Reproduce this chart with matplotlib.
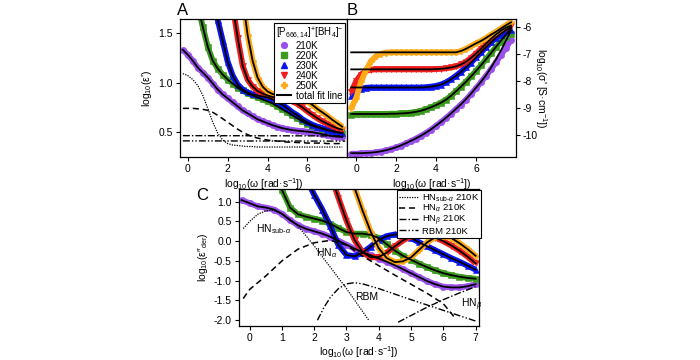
import numpy as np
import matplotlib
matplotlib.use("Agg")
import matplotlib.pyplot as plt
from matplotlib.lines import Line2D

plt.rcParams["font.family"] = ["Liberation Sans", "DejaVu Sans"]
plt.rcParams["axes.unicode_minus"] = False
plt.rcParams["mathtext.fontset"] = "custom"
plt.rcParams["mathtext.rm"] = "Liberation Sans"
plt.rcParams["mathtext.it"] = "Liberation Sans:italic"
plt.rcParams["mathtext.bf"] = "Liberation Sans:bold"

nan = float("nan")

TEMPS = ["210K", "220K", "230K", "240K", "250K"]
COLORS = ["#9a50ec", "#3c9a1e", "#0a14f0", "#f01e1e", "#ffaa18"]
MARKERS = ["o", "s", "^", "v", "P"]

# log10(omega) grids (measurement frequencies)
W_AB = np.arange(-0.25, 7.76, 0.25)
W_C = np.arange(-0.25, 7.01, 0.25)

# --- A: log10(eps') ---
A_210 = [1.33, 1.28, 1.22, 1.15, 1.10, 1.05, 0.99, 0.93, 0.88, 0.84, 0.80, 0.76, 0.72, 0.69, 0.66, 0.63, 0.61,
         0.59, 0.57, 0.555, 0.54, 0.53, 0.52, 0.515, 0.51, 0.505, 0.50, 0.49, 0.48, 0.47, 0.46, 0.455, 0.45]
A_220 = [nan, nan, nan, 1.78, 1.56, 1.36, 1.22, 1.14, 1.08, 1.03, 0.99, 0.95, 0.92, 0.89, 0.87, 0.85, 0.83,
         0.81, 0.79, 0.76, 0.73, 0.70, 0.67, 0.64, 0.61, 0.585, 0.565, 0.55, 0.535, 0.52, 0.51, 0.50, 0.49]
A_230 = [nan, nan, nan, nan, nan, nan, 1.88, 1.63, 1.42, 1.21, 1.07, 0.98, 0.93, 0.90, 0.88, 0.87, 0.86,
         0.85, 0.83, 0.80, 0.775, 0.74, 0.70, 0.67, 0.63, 0.60, 0.575, 0.555, 0.54, 0.525, 0.51, 0.50, 0.49]
A_240 = [nan, nan, nan, nan, nan, nan, nan, nan, nan, nan, 1.78, 1.45, 1.17, 1.03, 0.96, 0.915, 0.89,
         0.87, 0.855, 0.845, 0.84, 0.83, 0.81, 0.785, 0.75, 0.71, 0.675, 0.64, 0.61, 0.585, 0.56, 0.54, 0.525]
A_250 = [nan, nan, nan, nan, nan, nan, nan, nan, nan, nan, nan, nan, 1.85, 1.48, 1.22, 1.05, 0.96,
         0.91, 0.885, 0.87, 0.86, 0.855, 0.855, 0.85, 0.835, 0.81, 0.775, 0.735, 0.70, 0.665, 0.625, 0.59, 0.555]
A_SUB = [1.09, 1.07, 1.03, 0.97, 0.87, 0.74, 0.60, 0.49, 0.42, 0.385, 0.37, 0.365, 0.36, 0.355, 0.355, 0.35,
         0.35, 0.35, 0.35, 0.35, 0.35, 0.35, 0.35, 0.35, 0.35, 0.35, 0.35, 0.35, 0.35, 0.35, 0.35, 0.35, 0.35]
A_HNA = [0.74, 0.74, 0.74, 0.735, 0.73, 0.72, 0.70, 0.67, 0.635, 0.60, 0.565, 0.53, 0.50, 0.475, 0.455, 0.44,
         0.43, 0.42, 0.415, 0.41, 0.405, 0.40, 0.40, 0.395, 0.395, 0.39, 0.39, 0.39, 0.39, 0.385, 0.385, 0.385, 0.385]
A_FLAT_W = [-0.25, 7.9]
A_HNB = [0.465, 0.462]
A_RBM = [0.412, 0.410]

# --- B: log10(sigma') ---
B_210 = [-10.68, -10.68, -10.67, -10.66, -10.65, -10.63, -10.60, -10.56, -10.51, -10.45, -10.38, -10.30,
         -10.21, -10.12, -10.02, -9.91, -9.79, -9.65, -9.51, -9.36, -9.20, -9.03, -8.86, -8.68, -8.48, -8.26,
         -8.04, -7.80, -7.56, -7.30, -7.03, -6.76, -6.48]
B_220 = [-9.24, -9.22, -9.21, -9.21, -9.21, -9.21, -9.21, -9.21, -9.20, -9.20, -9.19, -9.18, -9.16, -9.13,
         -9.09, -9.03, -8.96, -8.88, -8.79, -8.68, -8.54, -8.37, -8.20, -8.02, -7.82, -7.62, -7.41, -7.19,
         -6.96, -6.74, -6.53, -6.36, -6.24]
B_230 = [-8.55, -8.36, -8.27, -8.24, -8.23, -8.23, -8.23, -8.23, -8.23, -8.23, -8.23, -8.23, -8.23, -8.23,
         -8.23, -8.22, -8.20, -8.17, -8.12, -8.04, -7.93, -7.80, -7.65, -7.49, -7.31, -7.12, -6.93, -6.74,
         -6.56, -6.40, -6.28, -6.19, -6.12]
B_240 = [-8.40, -8.00, -7.75, -7.61, -7.57, -7.56, -7.56, -7.56, -7.56, -7.56, -7.56, -7.56, -7.56, -7.56,
         -7.56, -7.56, -7.56, -7.55, -7.54, -7.52, -7.49, -7.45, -7.38, -7.28, -7.14, -6.98, -6.80, -6.61,
         -6.43, -6.27, -6.13, -6.02, -5.94]
B_250 = [-9.00, -8.62, -8.00, -7.58, -7.25, -7.07, -6.98, -6.94, -6.93, -6.93, -6.93, -6.93, -6.93, -6.93,
         -6.93, -6.93, -6.93, -6.93, -6.93, -6.93, -6.93, -6.93, -6.88, -6.80, -6.70, -6.60, -6.51, -6.40,
         -6.28, -6.17, -6.05, -5.93, -5.82]
B_FIT_210 = [-10.66, -10.66, -10.66, -10.65, -10.64, -10.62, -10.59, -10.55, -10.50, -10.44, -10.37, -10.29,
             -10.20, -10.11, -10.01, -9.90, -9.78, -9.64, -9.50, -9.35, -9.19, -9.02, -8.85, -8.66, -8.46,
             -8.24, -8.02, -7.78, -7.50, -7.19, -6.86, -6.50, -6.12]
B_FIT_220 = [-9.21, -9.21, -9.21, -9.21, -9.21, -9.21, -9.21, -9.21, -9.20, -9.20, -9.19, -9.18, -9.16, -9.13,
             -9.09, -9.03, -8.96, -8.88, -8.79, -8.68, -8.54, -8.37, -8.20, -8.02, -7.82, -7.62, -7.41, -7.19,
             -6.96, -6.73, -6.50, -6.28, -6.05]
B_FIT_230 = [-8.23, -8.23, -8.23, -8.23, -8.23, -8.23, -8.23, -8.23, -8.23, -8.23, -8.23, -8.23, -8.23, -8.23,
             -8.23, -8.22, -8.20, -8.17, -8.12, -8.04, -7.93, -7.80, -7.65, -7.49, -7.31, -7.12, -6.93, -6.74,
             -6.56, -6.39, -6.24, -6.11, -6.00]
B_FIT_240 = [-7.56, -7.56, -7.56, -7.56, -7.56, -7.56, -7.56, -7.56, -7.56, -7.56, -7.56, -7.56, -7.56, -7.56,
             -7.56, -7.56, -7.56, -7.55, -7.54, -7.52, -7.49, -7.45, -7.38, -7.28, -7.14, -6.98, -6.80, -6.61,
             -6.43, -6.27, -6.13, -6.02, -5.94]
B_FIT_250 = [-6.93, -6.93, -6.93, -6.93, -6.93, -6.93, -6.93, -6.93, -6.93, -6.93, -6.93, -6.93, -6.93, -6.93,
             -6.93, -6.93, -6.93, -6.93, -6.93, -6.93, -6.93, -6.93, -6.88, -6.80, -6.70, -6.60, -6.51, -6.40,
             -6.28, -6.17, -6.05, -5.93, -5.82]

# --- C: log10(eps''_der) ---
C_210 = [1.04, 0.96, 0.88, 0.85, 0.80, 0.69, 0.53, 0.40, 0.31, 0.25, 0.19, 0.11, 0.01, -0.09, -0.19, -0.28,
         -0.36, -0.44, -0.52, -0.61, -0.71, -0.81, -0.91, -1.01, -1.09, -1.15, -1.17, -1.17, -1.14, -1.09]
C_220 = [nan, nan, nan, nan, nan, 1.30, 0.85, 0.68, 0.62, 0.57, 0.52, 0.44, 0.33, 0.23, 0.19, 0.19, 0.16,
         0.08, -0.08, -0.24, -0.37, -0.47, -0.57, -0.66, -0.74, -0.81, -0.86, -0.90, -0.93, -0.95]
C_230 = [nan, nan, nan, nan, nan, nan, nan, nan, 1.60, 1.17, 0.80, 0.38, -0.10, -0.35, -0.38, -0.29, -0.14,
         0.03, 0.13, 0.17, 0.15, 0.08, -0.03, -0.13, -0.23, -0.33, -0.43, -0.52, -0.62, -0.72]
C_240 = [nan, nan, nan, nan, nan, nan, nan, nan, nan, nan, nan, 1.70, 1.10, 0.52, 0.03, -0.28, -0.41, -0.40,
         -0.29, -0.13, 0.02, 0.12, 0.15, 0.14, 0.09, 0.00, -0.11, -0.24, -0.39, -0.56]
C_250 = [nan, nan, nan, nan, nan, nan, nan, nan, nan, nan, nan, nan, nan, 2.00, 1.35, 0.77, 0.24, -0.18,
         -0.43, -0.53, -0.51, -0.41, -0.22, -0.03, 0.10, 0.13, 0.08, -0.05, -0.20, -0.37]
C_SUB_W = [-0.2, 0.0, 0.25, 0.5, 0.75, 1.0, 1.25, 1.5, 2.0, 2.5, 3.0, 3.5, 3.69]
C_SUB = [0.32, 0.50, 0.68, 0.77, 0.78, 0.70, 0.56, 0.38, -0.12, -0.66, -1.20, -1.78, -2.0]
C_HNA_W = [-0.2, 0.0, 0.5, 1.0, 1.5, 2.0, 2.5, 3.0, 3.5, 4.0, 4.5, 5.0, 5.5, 6.0, 6.4]
C_HNA = [-1.45, -1.22, -0.88, -0.50, -0.20, -0.04, 0.02, -0.10, -0.38, -0.62, -0.86, -1.09, -1.32, -1.58, -1.98]
C_RBM_W = [2.1, 2.3, 2.5, 2.75, 3.0, 3.25, 3.5, 4.0, 5.0, 6.0, 7.0]
C_RBM = [-2.0, -1.68, -1.42, -1.20, -1.08, -1.05, -1.08, -1.20, -1.48, -1.75, -2.02]
C_HNB_W = [4.6, 5.0, 5.5, 6.0, 6.5, 7.0]
C_HNB = [-2.05, -1.88, -1.67, -1.48, -1.31, -1.15]

XLAB = r"log$_{10}$(ω [rad·s$^{-1}$])"
FS = 7.5

fig = plt.figure(figsize=(7, 3.6), dpi=100)
axA = fig.add_axes([0.257, 0.564, 0.239, 0.383])
axB = fig.add_axes([0.496, 0.564, 0.241, 0.383])
axC = fig.add_axes([0.341, 0.094, 0.343, 0.381])

for ax in (axA, axB, axC):
    ax.tick_params(direction="out", length=3, width=0.8, labelsize=FS, pad=2)
    for s in ax.spines.values():
        s.set_linewidth(0.9)


def scatter_series(ax, w, series):
    # dense measured points: draw as a thick band plus markers on top
    for ys, c, m in zip(series, COLORS, MARKERS):
        ax.plot(w, ys, color=c, lw=4.2, solid_capstyle="butt", zorder=2)
        ax.plot(w, ys, ls="none", marker=m, ms=4.6, color=c, mec=c, mew=0.4, zorder=2)


def fit_lines(ax, w, series):
    for ys in series:
        ax.plot(w, ys, color="k", lw=1.3, zorder=4)


# A
A_ALL = [A_210, A_220, A_230, A_240, A_250]
scatter_series(axA, W_AB, A_ALL)
fit_lines(axA, W_AB, A_ALL)
axA.plot(W_AB, A_SUB, color="k", lw=0.9, ls=(0, (1, 1)), zorder=3)
axA.plot(W_AB, A_HNA, color="k", lw=1.1, ls=(0, (4, 2.5)), zorder=3)
axA.plot(A_FLAT_W, A_HNB, color="k", lw=1.0, ls=(0, (5, 1.5, 1, 1.5)), zorder=3)
axA.plot(A_FLAT_W, A_RBM, color="k", lw=1.0, ls=(0, (5, 1.5, 1, 1.5, 1, 1.5)), zorder=3)
axA.set_xlim(-0.4, 8.0)
axA.set_ylim(0.25, 1.64)
axA.set_xticks([0, 2, 4, 6])
axA.set_yticks([0.5, 1.0, 1.5])
axA.set_yticklabels(["0.5", "1.0", "1.5"])
axA.set_xlabel(XLAB, fontsize=FS, labelpad=2)
axA.set_ylabel("log$_{10}$(ε')", fontsize=FS, labelpad=3)

handles = [Line2D([], [], ls="none", marker=m, ms=4.2, color=c) for c, m in zip(COLORS, MARKERS)]
handles.append(Line2D([], [], color="k", lw=1.5))
leg = axA.legend(handles, TEMPS + ["total fit line"], title=r"[P$_{666,14}$]$^{+}$[BH$_4$]$^{-}$",
                 loc="upper right", bbox_to_anchor=(1.0, 0.985), borderaxespad=0.2, fontsize=7,
                 title_fontsize=7, handlelength=1.5, handletextpad=0.5, labelspacing=0.0,
                 borderpad=0.2, fancybox=False, framealpha=1, edgecolor="k")
leg.get_frame().set_linewidth(0.8)
leg.set_zorder(6)

# B
B_ALL = [B_210, B_220, B_230, B_240, B_250]
scatter_series(axB, W_AB, B_ALL)
fit_lines(axB, W_AB, [B_FIT_210, B_FIT_220, B_FIT_230, B_FIT_240, B_FIT_250])
axB.set_xlim(-0.45, 8.0)
axB.set_ylim(-10.8, -5.7)
axB.set_xticks([0, 2, 4, 6])
axB.set_yticks([-6, -7, -8, -9, -10])
axB.yaxis.tick_right()
axB.yaxis.set_label_position("right")
axB.tick_params(left=False)
axB.set_xlabel(XLAB, fontsize=FS, labelpad=2)
axB.set_ylabel(r"log$_{10}$(σ' [S·cm$^{-1}$])", fontsize=FS, rotation=270, labelpad=8)

# C
C_ALL = [C_210, C_220, C_230, C_240, C_250]
scatter_series(axC, W_C, C_ALL)
fit_lines(axC, W_C, C_ALL)
axC.plot(C_SUB_W, C_SUB, color="k", lw=0.9, ls=(0, (1, 1)), zorder=3, label=r"HN$_{\mathrm{sub}\text{-}\alpha}$ 210K")
axC.plot(C_HNA_W, C_HNA, color="k", lw=1.1, ls=(0, (4, 2.5)), zorder=3, label=r"HN$_{\alpha}$ 210K")
axC.plot(C_HNB_W, C_HNB, color="k", lw=1.0, ls=(0, (5, 1.5, 1, 1.5)), zorder=3, label=r"HN$_{\beta}$ 210K")
axC.plot(C_RBM_W, C_RBM, color="k", lw=1.0, ls=(0, (5, 1.5, 1, 1.5, 1, 1.5)), zorder=3, label="RBM 210K")
axC.set_xlim(-0.34, 7.1)
axC.set_ylim(-2.15, 1.32)
axC.set_xticks(range(0, 8))
axC.set_yticks([1.0, 0.5, 0.0, -0.5, -1.0, -1.5, -2.0])
axC.set_yticklabels(["1.0", "0.5", "0.0", "-0.5", "-1.0", "-1.5", "-2.0"])
axC.set_xlabel(XLAB, fontsize=FS, labelpad=1)
axC.set_ylabel("log$_{10}$(ε″$_{\\mathrm{der}}$)", fontsize=FS, labelpad=3)
legC = axC.legend(loc="upper right", bbox_to_anchor=(1.015, 1.0), borderaxespad=0.1, fontsize=6.8,
                  handlelength=2.0, handletextpad=0.4, labelspacing=-0.1, borderpad=0.25,
                  fancybox=False, framealpha=1, edgecolor="k")
legC.get_frame().set_linewidth(0.8)
legC.set_zorder(6)

axC.text(0.2, 0.30, r"HN$_{\mathrm{sub}\text{-}\alpha}$", fontsize=FS, va="center")
axC.text(2.05, -0.30, r"HN$_{\alpha}$", fontsize=FS, va="center")
axC.text(3.28, -1.42, "RBM", fontsize=FS, va="center")
axC.text(6.55, -1.62, r"HN$_{\beta}$", fontsize=FS, va="center")

fig.text(0.261, 0.972, "A", fontsize=12, ha="center", va="center")
fig.text(0.503, 0.972, "B", fontsize=12, ha="center", va="center")
fig.text(0.289, 0.458, "C", fontsize=12, ha="center", va="center")

fig.savefig("out.png", dpi=100)
